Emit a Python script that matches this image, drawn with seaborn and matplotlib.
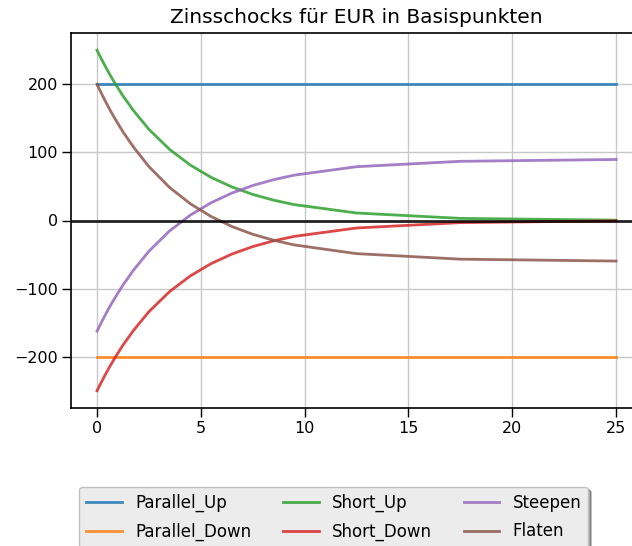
import matplotlib
matplotlib.use("Agg")
import matplotlib.pyplot as plt
import seaborn as sns
import pandas as pd

tenors = [0.0028, 0.0417, 0.1667, 0.375, 0.625, 0.875, 1.25, 1.75, 2.5, 3.5,
          4.5, 5.5, 6.5, 7.5, 8.5, 9.5, 12.5, 17.5, 25]
parallel_up = [200] * 19
parallel_down = [-200] * 19
short_up = [249.8, 247.4, 239.8, 227.6, 213.8, 200.9, 182.9, 161.6, 133.8, 104.2,
            81.2, 63.2, 49.2, 38.3, 29.9, 23.3, 11.0, 3.1, 0.5]
short_down = [-249.8, -247.4, -239.8, -227.6, -213.8, -200.9, -182.9, -161.6, -133.8, -104.2,
              -81.2, -63.2, -49.2, -38.3, -29.9, -23.3, -11.0, -3.1, -0.5]
steepen = [-162.3, -159.9, -152.2, -139.9, -125.9, -113.0, -94.8, -73.2, -45.1, -15.2,
           8.0, 26.1, 40.3, 51.3, 59.8, 66.5, 78.9, 86.8, 89.5]
flaten = [199.8, 197.3, 189.4, 176.7, 162.3, 148.9, 130.2, 108.1, 79.1, 48.4,
          24.5, 5.8, -8.8, -20.2, -28.9, -35.8, -48.6, -56.7, -59.5]

series = {
    "Parallel_Up": parallel_up,
    "Parallel_Down": parallel_down,
    "Short_Up": short_up,
    "Short_Down": short_down,
    "Steepen": steepen,
    "Flaten": flaten,
}
rows = []
for name, vals in series.items():
    for t, v in zip(tenors, vals):
        rows.append({"Laufzeit": t, "Schock": v, "Szenario": name})
df = pd.DataFrame(rows)

plt.rcParams["font.family"] = ["DejaVu Sans"]
fig = plt.figure(figsize=(6.32, 5.46), dpi=100)
ax = fig.add_axes([71 / 632, 1 - 408 / 546, (642 - 71) / 632, (408 - 33) / 546])

sns.lineplot(data=df, x="Laufzeit", y="Schock", hue="Szenario",
             palette=sns.color_palette("tab10", 6), linewidth=2.0, alpha=0.85,
             ax=ax, legend=True)
ax.axhline(0, color="black", linewidth=2.0, alpha=0.85, zorder=5)
ax.grid(True, color="#c8c8c8", linewidth=1.0)
ax.set_axisbelow(True)
ax.set_xlim(-1.25, 26.25)
ax.set_ylim(-275, 275)
ax.set_xticks([0, 5, 10, 15, 20, 25])
ax.set_yticks([-200, -100, 0, 100, 200])
ax.set_xlabel("")
ax.set_ylabel("")
ax.tick_params(labelsize=11.5, length=6.5, width=1.0, pad=3)
ax.set_title("Zinsschocks für EUR in Basispunkten", fontsize=14.5, pad=7)
for s in ax.spines.values():
    s.set_color("black")
    s.set_linewidth(1.2)

handles, labels = ax.get_legend_handles_labels()
ax.get_legend().remove()
fig.legend(handles, labels, loc="upper center", bbox_to_anchor=(0.528, 1 - 487 / 546),
           borderaxespad=0, ncol=3, fontsize=12, frameon=True, facecolor="#ececec",
           edgecolor="#c0c0c0", framealpha=1, shadow=True, labelspacing=0.65,
           columnspacing=1.9, handlelength=2.15, handletextpad=0.8)

fig.savefig("out.png", dpi=100)
